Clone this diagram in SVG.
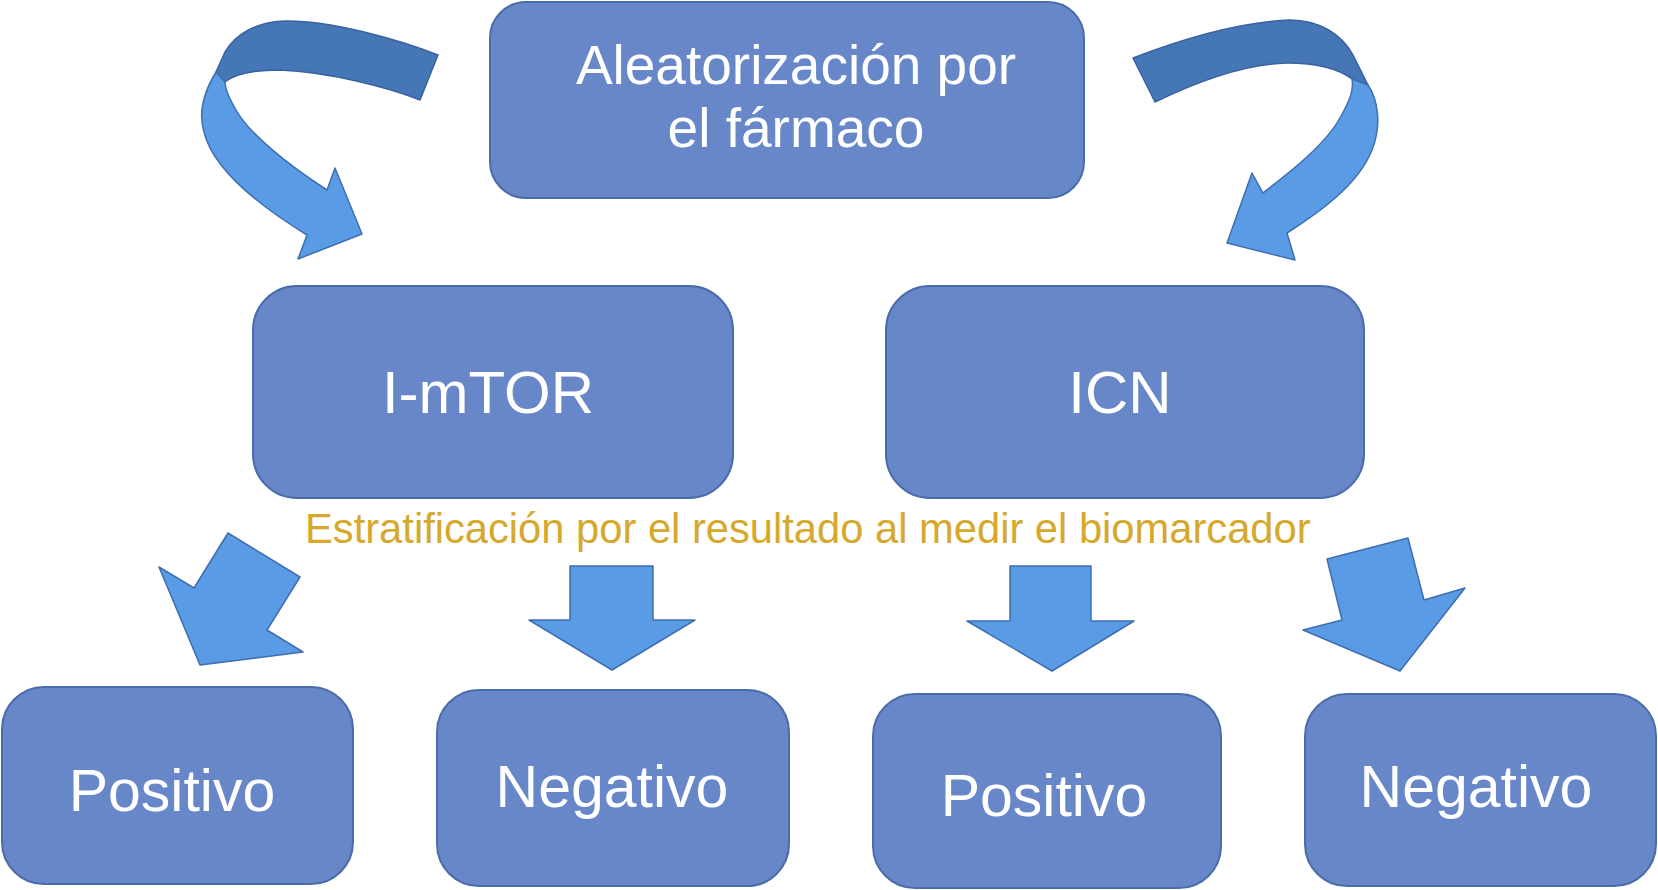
<svg xmlns="http://www.w3.org/2000/svg" width="1658" height="890" viewBox="0 0 1658 890">
<style>
.box{fill:#6787C8;stroke:#4A6CA8;stroke-width:2}
.lbl{fill:#FFFFFF;font-family:"Liberation Sans",Arial,sans-serif;text-anchor:middle}
.arr{fill:#5A9BE6;stroke:#3F6EAF;stroke-width:1.5;stroke-linejoin:round}
.dark{fill:#4577B6;stroke:#3A62A0;stroke-width:1.5;stroke-linejoin:round}
.note{fill:#D6A82C;font-family:"Liberation Sans",Arial,sans-serif;font-size:41.7px}
</style>
<rect width="1658" height="890" fill="#FFFFFF"/>
<g id="connectors">
  <g id="curve-left">
    <path class="dark" d="M438,55 C400,40 330,20 285,21 C255,22 235,35 225,52 L216,72 L225,82 C235,74 255,70 280,70 C330,72 390,88 420,100 Z"/>
    <path class="arr" d="M216,72 C205,90 198,112 204,132 C212,165 250,200 307,235 L298,259 L362,234 L335,168 L327,190 C290,166 250,135 236,110 C229,98 225,90 225,82 Z"/>
  </g>
  <g id="curve-right">
    <path class="dark" d="M1133,58 C1180,40 1240,22 1290,20 C1320,20 1342,35 1353,55 L1368,85 L1352,79 C1340,70 1320,63 1287,63 C1240,64 1190,85 1155,102 Z"/>
    <path class="arr" d="M1368,85 C1378,100 1382,125 1372,150 C1358,185 1320,212 1287,233 L1295,260 L1227,243 L1252,173 L1263,193 C1290,172 1325,145 1340,118 C1350,100 1354,90 1352,79 Z"/>
  </g>
  <polygon id="arrow-a" class="arr" points="159,567 194,588 228,533 300,577 267,630 303,652 200,665"/>
  <polygon id="arrow-b" class="arr" points="570,566 653,566 653,620 695,620 612,670 529,620 570,620"/>
  <polygon id="arrow-c" class="arr" points="1010,566 1091,566 1091,621 1134,621 1052,671 967,621 1010,621"/>
  <polygon id="arrow-d" class="arr" points="1327,559 1408,538 1424,600 1465,588 1400,671 1303,630 1342,620"/>
</g>
<g id="node-top">
  <rect class="box" x="490" y="2" width="594" height="196" rx="36"/>
  <text class="lbl" x="796" y="84" font-size="55">Aleatorización por</text>
  <text class="lbl" x="796" y="147" font-size="55">el fármaco</text>
</g>
<g id="node-imtor">
  <rect class="box" x="253" y="286" width="480" height="212" rx="44"/>
  <text class="lbl" x="488" y="413" font-size="60">I-mTOR</text>
</g>
<g id="node-icn">
  <rect class="box" x="886" y="286" width="478" height="212" rx="44"/>
  <text class="lbl" x="1120" y="413" font-size="60">ICN</text>
</g>
<g id="label-strat">
  <text class="note" x="305" y="543">Estratificación por el resultado al medir el biomarcador</text>
</g>
<g id="node-pos1">
  <rect class="box" x="2" y="687" width="351" height="197" rx="42"/>
  <text class="lbl" x="172" y="811" font-size="59">Positivo</text>
</g>
<g id="node-neg1">
  <rect class="box" x="437" y="690" width="352" height="196" rx="42"/>
  <text class="lbl" x="612" y="807" font-size="59">Negativo</text>
</g>
<g id="node-pos2">
  <rect class="box" x="873" y="694" width="348" height="194" rx="42"/>
  <text class="lbl" x="1044" y="816" font-size="59">Positivo</text>
</g>
<g id="node-neg2">
  <rect class="box" x="1305" y="694" width="351" height="192" rx="42"/>
  <text class="lbl" x="1476" y="807" font-size="59">Negativo</text>
</g>
</svg>
